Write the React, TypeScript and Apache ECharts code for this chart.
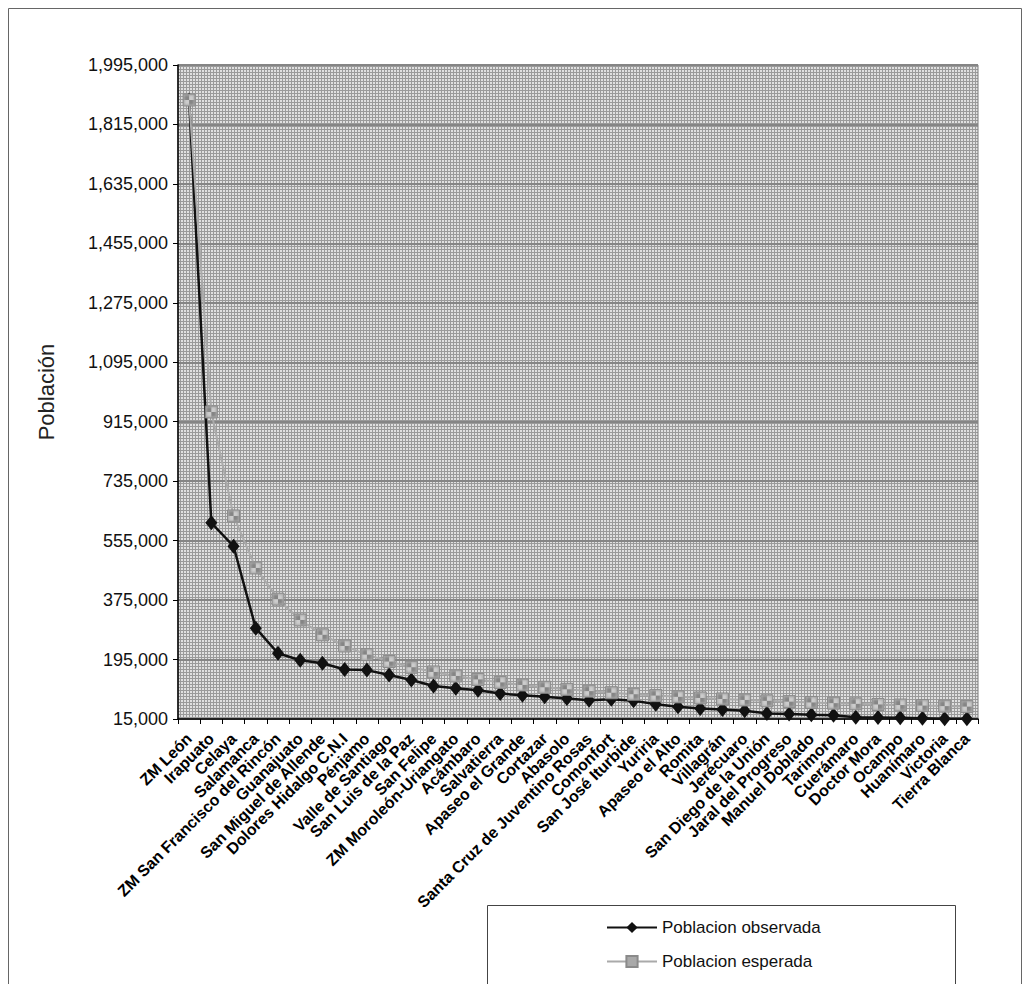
import React, { useEffect, useRef } from "react";
import * as echarts from "echarts";

const categories = [
  "ZM León",
  "Irapuato",
  "Celaya",
  "Salamanca",
  "ZM San Francisco del Rincón",
  "Guanajuato",
  "San Miguel de Allende",
  "Dolores Hidalgo C.N.I",
  "Pénjamo",
  "Valle de Santiago",
  "San Luis de la Paz",
  "San Felipe",
  "ZM Moroleón-Uriangato",
  "Acámbaro",
  "Salvatierra",
  "Apaseo el Grande",
  "Cortazar",
  "Abasolo",
  "Santa Cruz de Juventino Rosas",
  "Comonfort",
  "San José Iturbide",
  "Yuriria",
  "Apaseo el Alto",
  "Romita",
  "Villagrán",
  "Jerécuaro",
  "San Diego de la Unión",
  "Jaral del Progreso",
  "Manuel Doblado",
  "Tarimoro",
  "Cuerámaro",
  "Doctor Mora",
  "Ocampo",
  "Huanímaro",
  "Victoria",
  "Tierra Blanca",
];

const observed = [
  1889000, 609000, 538000, 290000, 214000, 193000, 184000, 165000, 163000,
  148000, 133000, 115000, 108000, 102000, 92000, 87000, 82000, 77000, 72000,
  75000, 70000, 60000, 52000, 47000, 43500, 40000, 32000, 30000, 27500, 26500,
  20000, 19500, 19000, 17500, 16000, 15500,
];

const expected = [
  1889000, 944500, 629700, 472300, 377800, 314800, 269900, 236100, 209900,
  188900, 171700, 157400, 145300, 134900, 125900, 118100, 111100, 104900, 99400,
  94500, 90000, 85900, 82100, 78700, 75600, 72700, 70000, 67500, 65100, 63000,
  60900, 59000, 57200, 55600, 54000, 52500,
];

const yMin = 15000;
const yMax = 1995000;
const yStep = 180000;

const seriesNames = ["Poblacion observada", "Poblacion esperada"];
const yAxisName = "Población";

const FONT = "'Liberation Sans', Arial, sans-serif";

function makeHatch(): HTMLCanvasElement {
  const c = document.createElement("canvas");
  c.width = 3;
  c.height = 3;
  const ctx = c.getContext("2d")!;
  ctx.fillStyle = "#e0e0e0";
  ctx.fillRect(0, 0, 3, 3);
  ctx.fillStyle = "#9a9a9a";
  ctx.fillRect(0, 0, 3, 1);
  ctx.fillRect(0, 0, 1, 3);
  return c;
}

function makeChecker(): HTMLCanvasElement {
  const c = document.createElement("canvas");
  c.width = 2;
  c.height = 2;
  const ctx = c.getContext("2d")!;
  ctx.fillStyle = "#cccccc";
  ctx.fillRect(0, 0, 2, 2);
  ctx.fillStyle = "#858585";
  ctx.fillRect(0, 0, 1, 1);
  ctx.fillRect(1, 1, 1, 1);
  return c;
}

export default function App() {
  const ref = useRef<HTMLDivElement>(null);

  useEffect(() => {
    if (!ref.current) return;
    const chart = echarts.init(ref.current, undefined, { renderer: "svg" });
    const hatch = makeHatch();
    const checker = makeChecker();

    chart.setOption({
      animation: false,
      backgroundColor: "#ffffff",
      textStyle: { fontFamily: FONT },
      grid: {
        left: 178,
        right: 52,
        top: 65,
        bottom: 265,
        show: true,
        backgroundColor: {
          image: hatch.toDataURL(),
          repeat: "repeat",
          imageWidth: 3,
          imageHeight: 3,
        } as any,
        borderColor: "#7a7a7a",
        borderWidth: 1,
      },
      legend: {
        orient: "vertical",
        left: 601,
        top: 914,
        itemWidth: 50,
        itemHeight: 14,
        itemGap: 17,
        selectedMode: false,
        data: seriesNames,
        textStyle: { fontFamily: FONT, fontSize: 17, color: "#111" },
      },
      graphic: [
        {
          type: "rect",
          z: 0,
          shape: { x: 8.5, y: 8.5, width: 1013, height: 1000 },
          style: { fill: "none", stroke: "#666", lineWidth: 1 },
          silent: true,
        },
        {
          type: "rect",
          z: 1,
          shape: { x: 487.5, y: 905.5, width: 468, height: 100 },
          style: { fill: "#fff", stroke: "#444", lineWidth: 1 },
          silent: true,
        },
      ],
      xAxis: {
        type: "category",
        data: categories,
        boundaryGap: true,
        axisLine: { show: true, lineStyle: { color: "#000", width: 1.5 } },
        axisTick: {
          show: true,
          interval: 0,
          length: 5,
          lineStyle: { color: "#000", width: 1 },
        },
        axisLabel: {
          interval: 0,
          rotate: 45,
          margin: 17,
          fontFamily: FONT,
          fontWeight: "bold",
          fontSize: 16,
          color: "#000",
        },
        splitLine: { show: false },
      },
      yAxis: {
        type: "value",
        min: yMin,
        max: yMax,
        interval: yStep,
        name: yAxisName,
        nameLocation: "middle",
        nameGap: 121,
        nameRotate: 90,
        nameTextStyle: { fontFamily: FONT, fontSize: 22, color: "#222" },
        axisLine: { show: true, lineStyle: { color: "#000", width: 1.5 } },
        axisTick: { show: true, length: 5, lineStyle: { color: "#000" } },
        axisLabel: {
          margin: 10,
          fontFamily: FONT,
          fontSize: 18,
          color: "#111",
          formatter: (v: number) => v.toLocaleString("en-US"),
        },
        splitLine: { show: true, lineStyle: { color: "#858585", width: 2 } },
      },
      series: [
        {
          name: seriesNames[0],
          type: "line",
          data: observed,
          symbol: "diamond",
          symbolSize: [12, 15],
          z: 3,
          lineStyle: { color: "#111", width: 2.5 },
          itemStyle: { color: "#111" },
        },
        {
          name: seriesNames[1],
          type: "line",
          data: expected,
          symbol: "rect",
          symbolSize: 12,
          z: 4,
          lineStyle: { color: "#aaaaaa", width: 2 },
          itemStyle: {
            color: {
              image: checker.toDataURL(),
              repeat: "repeat",
              imageWidth: 2,
              imageHeight: 2,
            } as any,
            borderColor: "#8a8a8a",
            borderWidth: 1,
          },
        },
      ],
    });

    return () => chart.dispose();
  }, []);

  return (
    <div
      ref={ref}
      style={{ position: "absolute", left: 0, top: 0, width: 1030, height: 984 }}
    />
  );
}
